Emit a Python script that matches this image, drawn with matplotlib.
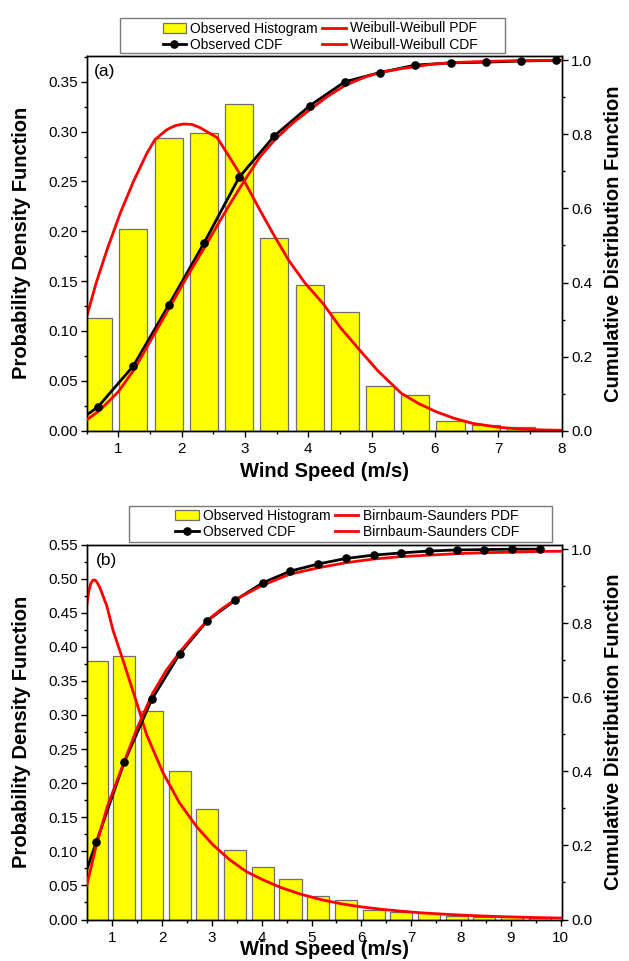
import matplotlib
matplotlib.use("Agg")
import matplotlib.pyplot as plt
from matplotlib.ticker import MultipleLocator, FormatStrFormatter
from matplotlib.patches import Rectangle, Patch
from matplotlib.lines import Line2D

plt.rcParams['font.family'] = ['Liberation Sans', 'DejaVu Sans']

# ---------------- data: panel (a) ----------------
centers_a = [0.683, 1.239, 1.796, 2.352, 2.908, 3.465, 4.021, 4.577, 5.133,
             5.690, 6.246, 6.802, 7.359]
hist_a = [0.113, 0.202, 0.294, 0.299, 0.328, 0.193, 0.146, 0.119, 0.045,
          0.036, 0.010, 0.006, 0.004]
cdf_x_a = [0.500, 0.683, 1.239, 1.796, 2.352, 2.908, 3.465, 4.021, 4.577, 5.133,
           5.690, 6.246, 6.802, 7.359, 7.915]
cdf_obs_a = [0.042, 0.065, 0.175, 0.339, 0.506, 0.684, 0.796, 0.877, 0.942, 0.967,
             0.987, 0.993, 0.995, 0.998, 1.000]
pdf_x_a = [0.50, 0.65, 0.82, 1.03, 1.24, 1.45, 1.58, 1.77, 1.90, 2.03, 2.16, 2.29,
           2.56, 2.77, 2.98, 3.23, 3.45, 3.69, 3.95, 4.24, 4.50, 4.81, 5.10, 5.47,
           5.75, 6.02, 6.30, 6.59, 7.00, 7.32, 7.70, 8.00]
pdf_a = [0.114, 0.148, 0.181, 0.218, 0.250, 0.278, 0.292, 0.302, 0.306, 0.3076,
         0.3072, 0.304, 0.294, 0.273, 0.2515, 0.222, 0.197, 0.171, 0.148, 0.127,
         0.104, 0.081, 0.060, 0.0375, 0.027, 0.019, 0.0125, 0.0074, 0.0035,
         0.0017, 0.0008, 0.0004]
fcdf_x_a = [0.50, 0.70, 1.00, 1.25, 1.50, 1.80, 2.10, 2.37, 2.60, 2.77, 2.98, 3.24,
            3.47, 3.75, 4.02, 4.30, 4.59, 4.90, 5.14, 5.45, 5.70, 5.93, 6.30, 6.80,
            7.30, 8.00]
fcdf_a = [0.029, 0.054, 0.105, 0.165, 0.240, 0.330, 0.420, 0.497, 0.565, 0.614,
          0.672, 0.740, 0.785, 0.830, 0.866, 0.902, 0.933, 0.955, 0.967, 0.977,
          0.983, 0.989, 0.994, 0.997, 0.999, 1.000]

# ---------------- data: panel (b) ----------------
centers_b = [0.683, 1.239, 1.796, 2.352, 2.908, 3.465, 4.021, 4.577, 5.133,
             5.690, 6.246, 6.802, 7.359, 7.915, 8.471, 9.028, 9.584]
hist_b = [0.379, 0.386, 0.306, 0.218, 0.162, 0.102, 0.077, 0.060, 0.034, 0.029,
          0.0135, 0.011, 0.009, 0.005, 0.004, 0.003, 0.002]
cdf_x_b = [0.486, 0.683, 1.239, 1.796, 2.352, 2.908, 3.465, 4.021, 4.577, 5.133,
           5.690, 6.246, 6.802, 7.359, 7.915, 8.471, 9.028, 9.584]
cdf_obs_b = [0.134, 0.210, 0.4245, 0.595, 0.717, 0.807, 0.862, 0.909, 0.941, 0.960,
             0.975, 0.984, 0.990, 0.995, 0.998, 0.999, 1.000, 1.000]
pdf_x_b = [0.49, 0.53, 0.57, 0.61, 0.65, 0.69, 0.75, 0.89, 1.02, 1.19, 1.46, 1.69,
           2.02, 2.35, 2.69, 3.02, 3.36, 3.69, 4.03, 4.38, 4.79, 5.20, 5.60, 6.00,
           6.40, 6.80, 7.20, 7.60, 8.20, 8.80, 9.40, 10.0]
pdf_b = [0.4625, 0.482, 0.493, 0.4975, 0.498, 0.495, 0.487, 0.460, 0.423, 0.386,
         0.325, 0.271, 0.215, 0.171, 0.1365, 0.1096, 0.0875, 0.0703, 0.058, 0.047,
         0.037, 0.029, 0.023, 0.0185, 0.015, 0.0122, 0.0098, 0.008, 0.0058, 0.0042,
         0.003, 0.0022]
fcdf_x_b = [0.49, 0.67, 0.90, 1.24, 1.50, 1.81, 2.08, 2.36, 2.64, 2.92, 3.19, 3.46,
            4.02, 4.37, 4.58, 5.14, 5.69, 6.25, 6.80, 7.36, 7.92, 8.47, 9.03, 9.58,
            10.0]
fcdf_b = [0.093, 0.195, 0.305, 0.426, 0.517, 0.611, 0.672, 0.723, 0.768, 0.809,
          0.838, 0.863, 0.903, 0.922, 0.933, 0.950, 0.9635, 0.9735, 0.980, 0.984,
          0.988, 0.9905, 0.992, 0.994, 0.9945]

W, H = 629, 961
fig = plt.figure(figsize=(W / 100, H / 100), dpi=100)

RED = '#ff0000'
BAR = '#ffff00'
BAR_EDGE = '#6e6e6e'


def fx(px):
    return px / W


def fy(py):
    return 1 - py / H


def panel(rect, centers, hist, cdf_x, cdf_obs, pdf_x, pdf, fcdf_x, fcdf,
          xlim, ylim_l, ylim_r, xmax_tick, tag, tag_pos, fit_name, xlab_y,
          legend_box, legend_anchor):
    ax = fig.add_axes(rect)
    ax.bar(centers, hist, width=0.444, color=BAR, edgecolor=BAR_EDGE,
           linewidth=0.9, zorder=1)
    ax.plot(pdf_x, pdf, color=RED, lw=2.0, zorder=3)
    ax.set_xlim(*xlim)
    ax.set_ylim(*ylim_l)
    ax2 = ax.twinx()
    ax2.plot(cdf_x[1:], cdf_obs[1:], color='black', lw=0, marker='o', ms=5.2,
             zorder=5)
    ax2.plot(cdf_x, cdf_obs, color='black', lw=2.0, zorder=3)
    ax2.plot(fcdf_x, fcdf, color=RED, lw=2.0, zorder=4)
    ax2.set_ylim(*ylim_r)
    ax2.set_xlim(*xlim)

    for a in (ax, ax2):
        for s in a.spines.values():
            s.set_linewidth(1.0)
    ax.xaxis.set_major_locator(MultipleLocator(1))
    ax.xaxis.set_minor_locator(MultipleLocator(0.5))
    ax.yaxis.set_major_locator(MultipleLocator(0.05))
    ax.yaxis.set_minor_locator(MultipleLocator(0.025))
    ax.yaxis.set_major_formatter(FormatStrFormatter('%.2f'))
    ax2.yaxis.set_major_locator(MultipleLocator(0.2))
    ax2.yaxis.set_minor_locator(MultipleLocator(0.1))
    ax2.yaxis.set_major_formatter(FormatStrFormatter('%.1f'))
    ax.set_xticks([t for t in range(1, xmax_tick + 1)])
    ax.tick_params(axis='both', which='major', direction='out', length=4.5,
                   width=1.0, labelsize=11, top=False)
    ax.tick_params(axis='both', which='minor', direction='out', length=2.5,
                   width=1.0, top=False)
    ax.tick_params(axis='y', which='major', pad=1.5)
    ax.tick_params(axis='x', which='major', pad=3.5)
    ax2.tick_params(axis='y', which='major', direction='out', length=4.5,
                    width=1.0, labelsize=11, pad=2.5)
    ax2.tick_params(axis='y', which='minor', direction='out', length=2.5,
                    width=1.0)

    ax.set_xlabel('Wind Speed (m/s)', fontsize=14.5, fontweight='bold', va='center')
    ax.xaxis.set_label_coords(0.5, xlab_y)
    ax.set_ylabel('Probability Density Function', fontsize=14.5,
                  fontweight='bold', va='center')
    ax.yaxis.set_label_coords(-0.137, 0.5)
    ax2.set_ylabel('Cumulative Distribution Function', fontsize=14.5,
                   fontweight='bold', va='center', rotation=90)
    ax2.yaxis.set_label_coords(1.11, 0.5)

    ax.text(tag_pos[0], tag_pos[1], tag, transform=ax.transAxes, fontsize=12.5,
            ha='left', va='center')

    # legend frame
    x0, y0, x1, y1 = legend_box
    fig.patches.append(Rectangle((fx(x0), fy(y1)), fx(x1) - fx(x0),
                                 fy(y0) - fy(y1), transform=fig.transFigure,
                                 facecolor='white', edgecolor='#7a7a7a',
                                 linewidth=1.0, zorder=0))
    handles = [
        Patch(facecolor=BAR, edgecolor=BAR_EDGE, linewidth=0.9),
        Line2D([], [], color='black', lw=2.0, marker='o', ms=5.2),
        Line2D([], [], color=RED, lw=2.0),
        Line2D([], [], color=RED, lw=2.0),
    ]
    labels = ['Observed Histogram', 'Observed CDF', fit_name + ' PDF',
              fit_name + ' CDF']
    fig.legend(handles, labels, loc='upper left',
               bbox_to_anchor=(fx(legend_anchor[0]), fy(legend_anchor[1])),
               bbox_transform=fig.transFigure, ncol=2, frameon=False,
               fontsize=10, borderpad=0, borderaxespad=0,
               handlelength=1.7, handletextpad=0.3, columnspacing=0.3,
               labelspacing=0.15, markerscale=1.0)
    return ax, ax2


# panel (a)
panel([fx(86.6), fy(430.7), fx(561.6) - fx(86.6), fy(56) - fy(430.7)],
      centers_a, hist_a, cdf_x_a, cdf_obs_a, pdf_x_a, pdf_a, fcdf_x_a, fcdf_a,
      (0.5, 8.0), (0, 0.3758), (0, 1.0116), 8, '(a)', (0.016, 0.958),
      'Weibull-Weibull', -0.1076, (120.3, 18.3, 505.4, 53.3), (162.5, 21.5))

# panel (b)
panel([fx(86.6), fy(919.5), fx(561.6) - fx(86.6), fy(544.5) - fy(919.5)],
      centers_b, hist_b, cdf_x_b, cdf_obs_b, pdf_x_b, pdf_b, fcdf_x_b, fcdf_b,
      (0.485, 10.02), (0, 0.55), (0, 1.0127), 10, '(b)', (0.019, 0.9565),
      'Birnbaum-Saunders', -0.079, (129.2, 505.7, 551.5, 541.7), (175.3, 509.0))

fig.savefig('out.png', dpi=100)
